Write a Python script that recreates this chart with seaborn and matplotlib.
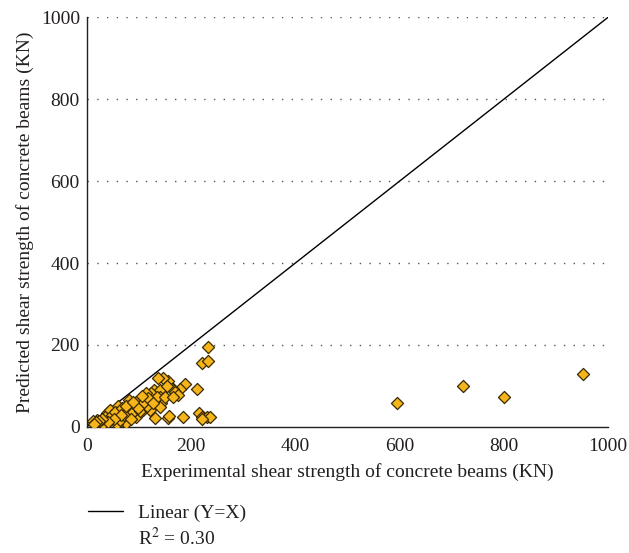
import matplotlib
matplotlib.use("Agg")
import matplotlib.pyplot as plt
import seaborn as sns
import pandas as pd
from matplotlib.lines import Line2D

experimental = [233, 220, 233, 212, 189, 178, 166, 156, 146, 136, 129, 140, 124, 113, 115, 95,
                81, 80, 140, 143, 140, 130, 155, 158, 184, 216, 220, 230, 237, 220, 108, 102,
                95, 76, 57, 50, 63, 60, 70, 38, 44, 28, 19, 12, 25, 31, 44, 63, 82, 89, 102,
                121, 115, 128, 134, 150, 163, 170, 175, 165, 153, 22, 16, 35, 48, 55, 68, 72,
                90, 98, 110, 118, 126, 85, 66, 52, 40, 30, 24, 18, 14, 75, 88, 105,
                595, 722, 800, 952]
predicted = [196, 155, 162, 92, 105, 92, 92, 113, 119, 119, 90, 90, 82, 82, 66, 62,
             66, 50, 74, 58, 48, 21, 21, 26, 25, 35, 25, 25, 24, 20, 41, 50,
             25, 9, 7, 25, 37, 50, 41, 33, 41, 17, 17, 15, 9, 8, 17, 17, 29, 37, 39,
             41, 50, 66, 74, 74, 92, 86, 78, 74, 100, 12, 10, 25, 30, 36, 45, 28,
             55, 45, 62, 70, 58, 20, 30, 20, 12, 20, 14, 11, 8, 52, 60, 75,
             58, 100, 74, 130]

line_x = [0, 1000]
line_y = [0, 1000]
x_ticks = [0, 200, 400, 600, 800, 1000]
y_ticks = [0, 200, 400, 600, 800, 1000]

df = pd.DataFrame({"Experimental": experimental, "Predicted": predicted})
line_df = pd.DataFrame({"x": line_x, "y": line_y})

sns.set_style("ticks")
plt.rcParams["font.family"] = ["Liberation Serif", "DejaVu Serif"]
plt.rcParams["mathtext.fontset"] = "stix"

fig = plt.figure(figsize=(6.29, 5.53), dpi=100)
ax = fig.add_axes([0.138, 0.228, 0.829, 0.741])

sns.lineplot(data=line_df, x="x", y="y", color="black", linewidth=1.0, ax=ax, zorder=2)
sns.scatterplot(data=df, x="Experimental", y="Predicted", marker="D", s=38,
                color="#F7B51C", edgecolor="#3a2a00", linewidth=0.9, ax=ax, zorder=3)

ax.set_xlim(0, 1000)
ax.set_ylim(0, 1000)
ax.set_xticks(x_ticks)
ax.set_yticks(y_ticks)
ax.tick_params(axis="both", length=0, labelsize=14, colors="#231f20")
ax.tick_params(axis="x", pad=8)
ax.tick_params(axis="y", pad=5)
for y in y_ticks[1:]:
    ax.axhline(y, color="#555555", linestyle=(0, (1, 6)), linewidth=1.0, zorder=1)
sns.despine(ax=ax)
for sp in ["left", "bottom"]:
    ax.spines[sp].set_color("#231f20")
    ax.spines[sp].set_linewidth(1.0)

ax.set_xlabel("Experimental shear strength of concrete beams (KN)", fontsize=14, color="#231f20", labelpad=6)
ax.set_ylabel("Predicted shear strength of concrete beams (KN)", fontsize=14, color="#231f20", labelpad=5)

handles = [Line2D([0], [0], color="black", linewidth=1.0),
           Line2D([0], [0], color="none")]
labels = ["Linear (Y=X)", "R$^2$ = 0.30"]
fig.legend(handles, labels, loc="upper left", bbox_to_anchor=(0.140, 0.088),
           frameon=False, fontsize=14, handlelength=1.8, handletextpad=0.75,
           labelspacing=0.25, borderpad=0, borderaxespad=0, labelcolor="#231f20")

fig.savefig("out.png", dpi=100)
